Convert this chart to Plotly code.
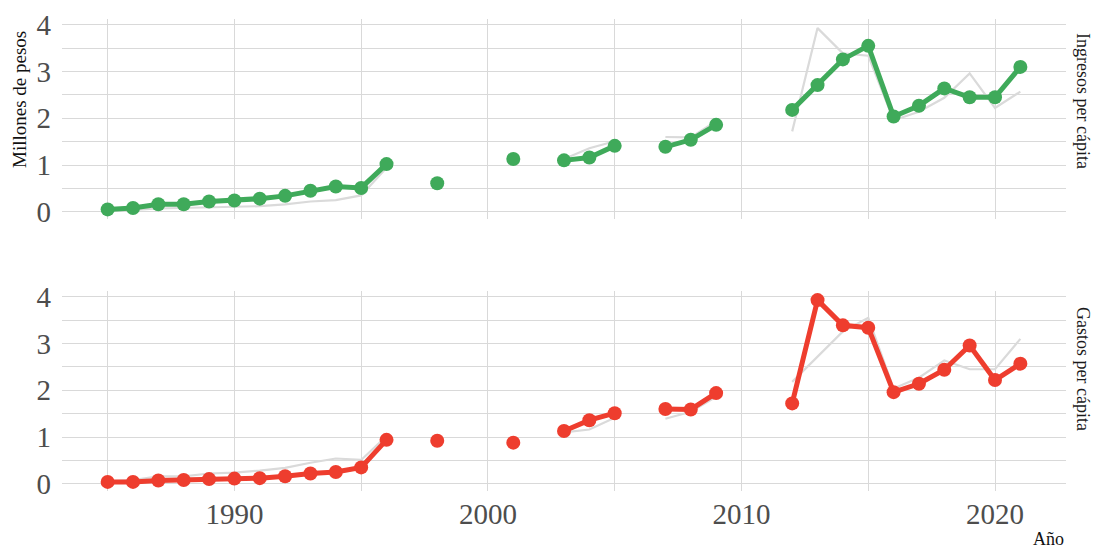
import plotly.graph_objects as go
from plotly.subplots import make_subplots

years = list(range(1985, 2022))

ingresos = {
    1985: 0.05, 1986: 0.08, 1987: 0.16, 1988: 0.16, 1989: 0.22, 1990: 0.24,
    1991: 0.28, 1992: 0.34, 1993: 0.45, 1994: 0.54, 1995: 0.51, 1996: 1.02,
    1998: 0.61, 2001: 1.13, 2003: 1.10, 2004: 1.16, 2005: 1.41, 2007: 1.39,
    2008: 1.54, 2009: 1.86, 2012: 2.18, 2013: 2.71, 2014: 3.26, 2015: 3.55,
    2016: 2.04, 2017: 2.27, 2018: 2.64, 2019: 2.45, 2020: 2.45, 2021: 3.10,
}
gastos = {
    1985: 0.04, 1986: 0.04, 1987: 0.07, 1988: 0.08, 1989: 0.10, 1990: 0.11,
    1991: 0.12, 1992: 0.16, 1993: 0.22, 1994: 0.25, 1995: 0.35, 1996: 0.94,
    1998: 0.92, 2001: 0.88, 2003: 1.13, 2004: 1.36, 2005: 1.51, 2007: 1.60,
    2008: 1.59, 2009: 1.94, 2012: 1.72, 2013: 3.93, 2014: 3.39, 2015: 3.34,
    2016: 1.96, 2017: 2.14, 2018: 2.44, 2019: 2.96, 2020: 2.22, 2021: 2.57,
}
ing_vals = [ingresos.get(y) for y in years]
gas_vals = [gastos.get(y) for y in years]

x_ticks = [1990, 2000, 2010, 2020]
y_ticks = [0, 1, 2, 3, 4]

GREEN = "#3FAA5A"
RED = "#EE3D2E"
GREY_LINE = "#DADADA"
GRID = "#D9D9D9"
FONT = "Liberation Serif"

fig = make_subplots(rows=2, cols=1, shared_xaxes=False, vertical_spacing=0.15)

# top panel: grey = gastos, colored = ingresos
fig.add_trace(go.Scatter(x=years, y=gas_vals, mode="lines",
                         line=dict(color=GREY_LINE, width=2.2),
                         connectgaps=False, hoverinfo="skip", showlegend=False), row=1, col=1)
fig.add_trace(go.Scatter(x=years, y=ing_vals, mode="lines+markers",
                         line=dict(color=GREEN, width=5),
                         marker=dict(color=GREEN, size=14),
                         connectgaps=False, name="Ingresos per cápita", showlegend=False), row=1, col=1)
# bottom panel: grey = ingresos, colored = gastos
fig.add_trace(go.Scatter(x=years, y=ing_vals, mode="lines",
                         line=dict(color=GREY_LINE, width=2.2),
                         connectgaps=False, hoverinfo="skip", showlegend=False), row=2, col=1)
fig.add_trace(go.Scatter(x=years, y=gas_vals, mode="lines+markers",
                         line=dict(color=RED, width=5),
                         marker=dict(color=RED, size=14),
                         connectgaps=False, name="Gastos per cápita", showlegend=False), row=2, col=1)

W, H = 1096, 550
ML, MR, MT, MB = 62, 30, 19, 59
pw = W - ML - MR
ph = H - MT - MB


def yp(py):
    return min(1.0, max(0.0, (H - MB - py) / ph))


def xp(px):
    return (px - ML) / pw


def yp_free(py):
    return (H - MB - py) / ph


xaxis_common = dict(
    range=[1983.2, 2022.8], tickvals=x_ticks, ticktext=[str(v) for v in x_ticks],
    showgrid=True, gridcolor=GRID, gridwidth=1.1, zeroline=False, showline=False,
    ticks="", tickfont=dict(family=FONT, size=29, color="#4D4D4D"),
    minor=dict(dtick=5, tick0=1985, showgrid=True, gridcolor=GRID, gridwidth=1.1),
    automargin=False,
)
yaxis_common = dict(
    range=[-0.155, 4.125], tickvals=y_ticks, ticktext=[str(v) for v in y_ticks],
    showgrid=True, gridcolor=GRID, gridwidth=1.1, zeroline=False, showline=False,
    ticks="", tickfont=dict(family=FONT, size=29, color="#4D4D4D"),
    minor=dict(dtick=0.5, tick0=0, showgrid=True, gridcolor=GRID, gridwidth=1.1),
    ticklabelstandoff=10, automargin=False,
)

fig.update_layout(
    width=W, height=H,
    margin=dict(l=ML, r=MR, t=MT, b=MB, autoexpand=False),
    paper_bgcolor="white", plot_bgcolor="white",
    font=dict(family=FONT),
    xaxis=dict(**xaxis_common, domain=[0, 1], showticklabels=False),
    xaxis2=dict(**xaxis_common, domain=[0, 1], showticklabels=True, ticklabelstandoff=3),
    yaxis=dict(**yaxis_common, domain=[yp(219), yp(19)]),
    yaxis2=dict(**yaxis_common, domain=[yp(491), yp(291)]),
    annotations=[
        dict(text="Millones de pesos", x=xp(19), y=yp_free(100), xref="paper", yref="paper",
             textangle=-90, showarrow=False, xanchor="center", yanchor="middle",
             font=dict(family=FONT, size=19, color="#111111")),
        dict(text="Ingresos per cápita", x=xp(1083), y=yp_free(101), xref="paper", yref="paper",
             textangle=90, showarrow=False, xanchor="center", yanchor="middle",
             font=dict(family=FONT, size=18, color="#1A1A1A")),
        dict(text="Gastos per cápita", x=xp(1083), y=yp_free(369), xref="paper", yref="paper",
             textangle=90, showarrow=False, xanchor="center", yanchor="middle",
             font=dict(family=FONT, size=18, color="#1A1A1A")),
        dict(text="Año", x=1, y=yp_free(539), xref="paper", yref="paper",
             showarrow=False, xanchor="right", yanchor="middle",
             font=dict(family=FONT, size=18, color="#111111")),
    ],
)

fig.write_html(
    "out.html",
    config={"displayModeBar": False},
    post_script="document.body.style.margin='0';document.body.style.padding='0';",
)
